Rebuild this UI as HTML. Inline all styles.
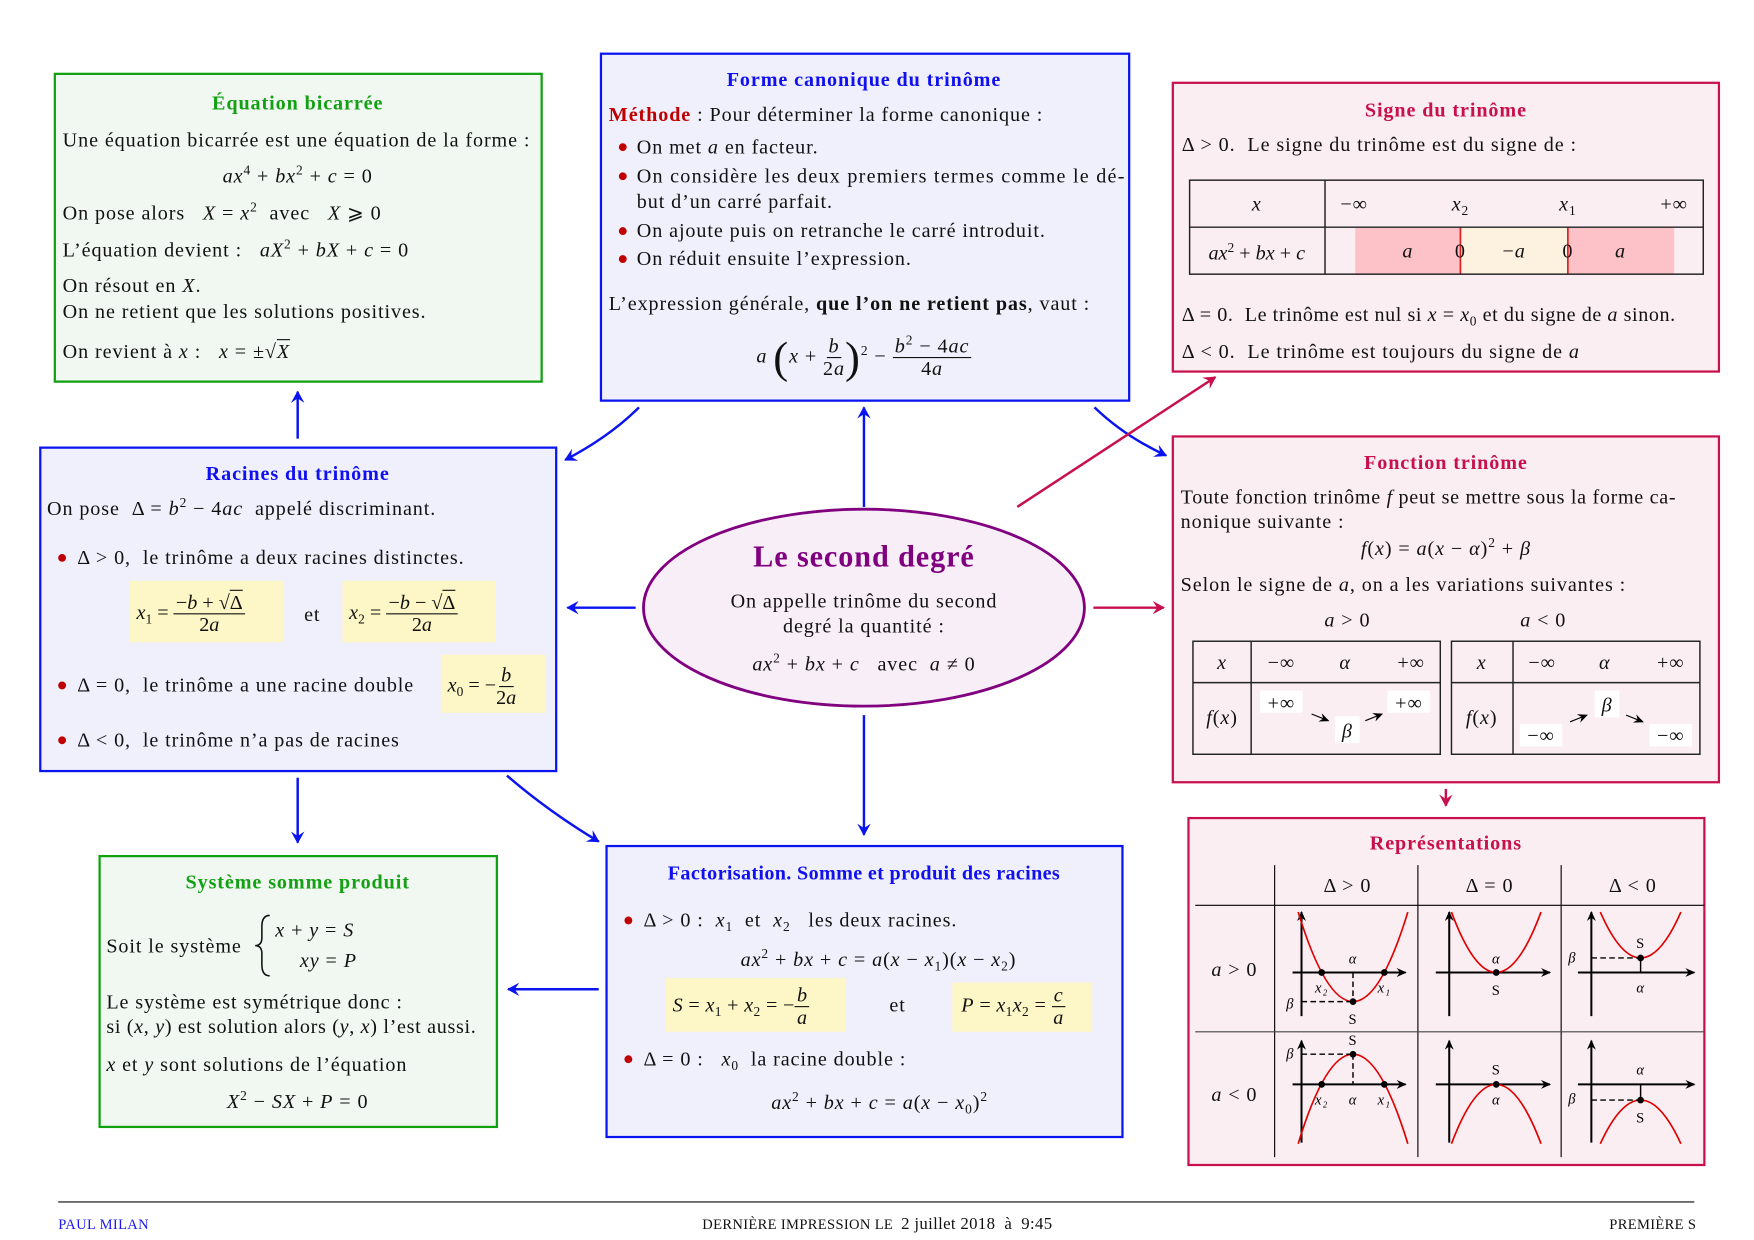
<!DOCTYPE html>
<html><head><meta charset="utf-8">
<style>
html,body{margin:0;padding:0;background:#fff;}
body{width:1754px;height:1240px;overflow:hidden;position:relative;}
#w{position:absolute;left:0;top:0;width:1560px;height:1103px;transform:scale(1.1191);transform-origin:0 0;font-family:"Liberation Serif",serif;font-size:18px;letter-spacing:0.8px;color:#111;}
.b{position:absolute;box-sizing:border-box;border:2.5px solid;}
.g{border-color:#10a010;background:#f1f8f1;}
.bl{border-color:#0a14f0;background:#f0f0fc;}
.r{border-color:#c8104c;background:#fbeef2;}
.t{position:absolute;white-space:nowrap;line-height:20px;}
.c{transform:translateX(-50%);}
.h{font-weight:bold;}
.hg{color:#14a014}.hb{color:#1010f0}.hr{color:#c8104c}
i{font-style:italic}
.dot{position:absolute;width:7px;height:7px;border-radius:50%;background:#c00000;}
.y{position:absolute;background:#fdf6c6;}
.fr{display:inline-flex;flex-direction:column;align-items:center;vertical-align:middle;line-height:19px;}
.fr>span:first-child{border-bottom:1px solid #111;padding:0 2px;}
sup{font-size:12px;vertical-align:7px;line-height:0}
sub{font-size:12px;vertical-align:-4px;line-height:0}
</style></head><body><div id="w">

<svg width="1560" height="1103" style="position:absolute;left:0;top:0">
<defs>
<marker id="ab" markerWidth="14" markerHeight="14" refX="10" refY="6" orient="auto" markerUnits="userSpaceOnUse"><path d="M0,0 L11,6 L0,12 L4,6 Z" fill="#0a14f0"/></marker>
<marker id="ar" markerWidth="14" markerHeight="14" refX="10" refY="6" orient="auto" markerUnits="userSpaceOnUse"><path d="M0,0 L11,6 L0,12 L4,6 Z" fill="#c8104c"/></marker>
<marker id="ak" markerWidth="10" markerHeight="10" refX="8" refY="4" orient="auto" markerUnits="userSpaceOnUse"><path d="M0,0 L9,4 L0,8 L3,4 Z" fill="#000"/></marker>
</defs>
<g stroke="#0a14f0" stroke-width="2.2" fill="none" marker-end="url(#ab)">
<path d="M266,392 L266,350"/>
<path d="M571,364 Q545,390 505,411"/>
<path d="M772,453 L772,364"/>
<path d="M978,364 Q1005,390 1042,407"/>
<path d="M568,543 L507,543"/>
<path d="M266,695 L266,753"/>
<path d="M772,639 L772,746"/>
<path d="M453,693 Q490,725 535,752"/>
<path d="M535,884 L454,884"/>
</g>
<g stroke="#c8104c" stroke-width="2.2" fill="none" marker-end="url(#ar)">
<path d="M909,453 L1086,337"/>
<path d="M977,543 L1040,543"/>
<path d="M1292,705 L1292,720"/>
</g>
<ellipse cx="772" cy="543" rx="197" ry="88" fill="#f8eef8" stroke="#800080" stroke-width="2.5"/>
<line x1="52" y1="1074" x2="1514" y2="1074" stroke="#555" stroke-width="1.5"/>
</svg>

<!-- Equation bicarree -->
<div class="b g" style="left:48px;top:65px;width:437px;height:277px"></div>
<div class="t c h hg" style="left:266px;top:82px">Équation bicarrée</div>
<div class="t" style="left:56px;top:115px">Une équation bicarrée est une équation de la forme :</div>
<div class="t c" style="left:266px;top:147px"><i>ax</i><sup>4</sup> + <i>bx</i><sup>2</sup> + <i>c</i> = 0</div>
<div class="t" style="left:56px;top:180px">On pose alors &nbsp;&nbsp;<i>X</i> = <i>x</i><sup>2</sup> &nbsp;avec &nbsp;&nbsp;<i>X</i> ⩾ 0</div>
<div class="t" style="left:56px;top:213px">L’équation devient : &nbsp;&nbsp;<i>aX</i><sup>2</sup> + <i>bX</i> + <i>c</i> = 0</div>
<div class="t" style="left:56px;top:245px">On résout en <i>X</i>.</div>
<div class="t" style="left:56px;top:268px">On ne retient que les solutions positives.</div>
<div class="t" style="left:56px;top:304px">On revient à <i>x</i> : &nbsp;&nbsp;<i>x</i> = ±√<span style="text-decoration:overline"><i>X</i></span></div>

<!-- Forme canonique -->
<div class="b bl" style="left:536px;top:47px;width:474px;height:312px"></div>
<div class="t c h hb" style="left:772px;top:61px">Forme canonique du trinôme</div>
<div class="t" style="left:544px;top:92px"><span class="h" style="color:#c00000">Méthode</span> : Pour déterminer la forme canonique :</div>
<div class="dot" style="left:553px;top:128px"></div><div class="t" style="left:569px;top:121px">On met <i>a</i> en facteur.</div>
<div class="dot" style="left:553px;top:154px"></div><div class="t" style="left:569px;top:147px;letter-spacing:1.1px">On considère les deux premiers termes comme le dé-</div>
<div class="t" style="left:569px;top:170px">but d’un carré parfait.</div>
<div class="dot" style="left:553px;top:203px"></div><div class="t" style="left:569px;top:196px">On ajoute puis on retranche le carré introduit.</div>
<div class="dot" style="left:553px;top:228px"></div><div class="t" style="left:569px;top:221px">On réduit ensuite l’expression.</div>
<div class="t" style="left:544px;top:261px">L’expression générale, <b>que l’on ne retient pas</b>, vaut :</div>
<div class="t c" style="left:772px;top:298px;line-height:40px"><i>a</i> <span style="font-size:40px;vertical-align:middle;font-weight:100">(</span><i>x</i> + <span class="fr"><span><i>b</i></span><span>2<i>a</i></span></span><span style="font-size:40px;vertical-align:middle;font-weight:100">)</span><sup>2</sup> − <span class="fr"><span><i>b</i><sup>2</sup> − 4<i>ac</i></span><span>4<i>a</i></span></span></div>

<!-- Signe du trinome -->
<div class="b r" style="left:1047px;top:73px;width:490px;height:260px"></div>
<div class="t c h hr" style="left:1292px;top:88px">Signe du trinôme</div>
<div class="t" style="left:1056px;top:119px">Δ &gt; 0. &nbsp;Le signe du trinôme est du signe de :</div>
<svg style="position:absolute;left:0;top:0" width="1560" height="400">
<rect x="1211" y="203" width="94" height="42" fill="#fcc2c8"/>
<rect x="1305" y="203" width="96" height="42" fill="#fdf2e0"/>
<rect x="1401" y="203" width="95" height="42" fill="#fcc2c8"/>
<line x1="1305" y1="203" x2="1305" y2="245" stroke="#e02020" stroke-width="1.5"/>
<line x1="1401" y1="203" x2="1401" y2="245" stroke="#e02020" stroke-width="1.5"/>
<rect x="1063" y="161" width="459" height="84" fill="none" stroke="#222" stroke-width="1.3"/>
<line x1="1063" y1="203" x2="1522" y2="203" stroke="#222" stroke-width="1.3"/>
<line x1="1184" y1="161" x2="1184" y2="245" stroke="#222" stroke-width="1.3"/>
</svg>
<div class="t c" style="left:1123px;top:172px"><i>x</i></div>
<div class="t c" style="left:1210px;top:172px">−∞</div>
<div class="t c" style="left:1305px;top:172px"><i>x</i><sub>2</sub></div>
<div class="t c" style="left:1401px;top:172px"><i>x</i><sub>1</sub></div>
<div class="t c" style="left:1496px;top:172px">+∞</div>
<div class="t c" style="left:1123px;top:216px;letter-spacing:0"><i>ax</i><sup>2</sup> + <i>bx</i> + <i>c</i></div>
<div class="t c" style="left:1258px;top:214px"><i>a</i></div>
<div class="t c" style="left:1305px;top:214px">0</div>
<div class="t c" style="left:1353px;top:214px">−<i>a</i></div>
<div class="t c" style="left:1401px;top:214px">0</div>
<div class="t c" style="left:1448px;top:214px"><i>a</i></div>
<div class="t" style="left:1056px;top:271px;letter-spacing:0.5px">Δ = 0. &nbsp;Le trinôme est nul si <i>x</i> = <i>x</i><sub>0</sub> et du signe de <i>a</i> sinon.</div>
<div class="t" style="left:1056px;top:304px">Δ &lt; 0. &nbsp;Le trinôme est toujours du signe de <i>a</i></div>

<!-- Racines -->
<div class="b bl" style="left:35px;top:399px;width:463px;height:291px"></div>
<div class="t c h hb" style="left:266px;top:413px">Racines du trinôme</div>
<div class="t" style="left:42px;top:444px">On pose &nbsp;Δ = <i>b</i><sup>2</sup> − 4<i>ac</i> &nbsp;appelé discriminant.</div>
<div class="dot" style="left:52px;top:495px"></div><div class="t" style="left:69px;top:488px">Δ &gt; 0, &nbsp;le trinôme a deux racines distinctes.</div>
<div class="y" style="left:116px;top:519px;width:137px;height:55px"></div>
<div class="y" style="left:306px;top:519px;width:137px;height:55px"></div>
<div class="t" style="left:122px;top:527px;line-height:40px;letter-spacing:0"><i>x</i><sub>1</sub> = <span class="fr"><span>−<i>b</i> + √<span style="text-decoration:overline">Δ</span></span><span>2<i>a</i></span></span></div>
<div class="t c" style="left:279px;top:539px">et</div>
<div class="t" style="left:312px;top:527px;line-height:40px;letter-spacing:0"><i>x</i><sub>2</sub> = <span class="fr"><span>−<i>b</i> − √<span style="text-decoration:overline">Δ</span></span><span>2<i>a</i></span></span></div>
<div class="dot" style="left:52px;top:609px"></div><div class="t" style="left:69px;top:602px">Δ = 0, &nbsp;le trinôme a une racine double</div>
<div class="y" style="left:394px;top:585px;width:94px;height:52px"></div>
<div class="t" style="left:400px;top:592px;line-height:40px;letter-spacing:0"><i>x</i><sub>0</sub> = −<span class="fr"><span><i>b</i></span><span>2<i>a</i></span></span></div>
<div class="dot" style="left:52px;top:658px"></div><div class="t" style="left:69px;top:651px">Δ &lt; 0, &nbsp;le trinôme n’a pas de racines</div>

<!-- Ellipse text -->
<div class="t c h" style="left:772px;top:482px;font-size:27px;line-height:30px;color:#800080">Le second degré</div>
<div class="t c" style="left:772px;top:527px">On appelle trinôme du second</div>
<div class="t c" style="left:772px;top:549px">degré la quantité :</div>
<div class="t c" style="left:772px;top:583px"><i>ax</i><sup>2</sup> + <i>bx</i> + <i>c</i> &nbsp;&nbsp;avec &nbsp;<i>a</i> ≠ 0</div>

<!-- Fonction trinome -->
<div class="b r" style="left:1047px;top:389px;width:490px;height:311px"></div>
<div class="t c h hr" style="left:1292px;top:403px">Fonction trinôme</div>
<div class="t" style="left:1055px;top:434px;letter-spacing:0.6px">Toute fonction trinôme <i>f</i> peut se mettre sous la forme ca-</div>
<div class="t" style="left:1055px;top:456px">nonique suivante :</div>
<div class="t c" style="left:1292px;top:480px"><i>f</i>(<i>x</i>) = <i>a</i>(<i>x</i> − <i>α</i>)<sup>2</sup> + <i>β</i></div>
<div class="t" style="left:1055px;top:512px">Selon le signe de <i>a</i>, on a les variations suivantes :</div>
<div class="t c" style="left:1204px;top:544px"><i>a</i> &gt; 0</div>
<div class="t c" style="left:1379px;top:544px"><i>a</i> &lt; 0</div>
<svg style="position:absolute;left:0;top:0" width="1560" height="700">
<g fill="none" stroke="#222" stroke-width="1.3">
<rect x="1066" y="573" width="221" height="101"/><line x1="1066" y1="610" x2="1287" y2="610"/><line x1="1118" y1="573" x2="1118" y2="674"/>
<rect x="1297" y="573" width="222" height="101"/><line x1="1297" y1="610" x2="1519" y2="610"/><line x1="1352" y1="573" x2="1352" y2="674"/>
</g>
<g fill="#fff"><rect x="1126" y="617" width="38" height="20"/><rect x="1240" y="617" width="38" height="20"/><rect x="1193" y="640" width="22" height="24"/>
<rect x="1358" y="647" width="38" height="20"/><rect x="1474" y="647" width="38" height="20"/><rect x="1425" y="617" width="22" height="24"/></g>
<g stroke="#000" stroke-width="1" marker-end="url(#ak)">
<line x1="1172" y1="638" x2="1187" y2="644"/><line x1="1220" y1="644" x2="1235" y2="638"/>
<line x1="1403" y1="645" x2="1418" y2="639"/><line x1="1453" y1="639" x2="1468" y2="645"/>
</g>
</svg>
<div class="t c" style="left:1092px;top:582px"><i>x</i></div>
<div class="t c" style="left:1145px;top:582px">−∞</div>
<div class="t c" style="left:1202px;top:582px"><i>α</i></div>
<div class="t c" style="left:1261px;top:582px">+∞</div>
<div class="t c" style="left:1092px;top:631px"><i>f</i>(<i>x</i>)</div>
<div class="t c" style="left:1145px;top:618px">+∞</div>
<div class="t c" style="left:1204px;top:643px"><i>β</i></div>
<div class="t c" style="left:1259px;top:618px">+∞</div>
<div class="t c" style="left:1324px;top:582px"><i>x</i></div>
<div class="t c" style="left:1378px;top:582px">−∞</div>
<div class="t c" style="left:1434px;top:582px"><i>α</i></div>
<div class="t c" style="left:1493px;top:582px">+∞</div>
<div class="t c" style="left:1324px;top:631px"><i>f</i>(<i>x</i>)</div>
<div class="t c" style="left:1377px;top:647px">−∞</div>
<div class="t c" style="left:1436px;top:620px"><i>β</i></div>
<div class="t c" style="left:1493px;top:647px">−∞</div>

<!-- Systeme -->
<div class="b g" style="left:88px;top:764px;width:357px;height:244px"></div>
<svg style="position:absolute;left:0;top:0" width="300" height="900">
<path d="M241,818 Q234,818 234,828 L234,838 Q234,845 228,845 Q234,845 234,852 L234,862 Q234,872 241,872" fill="none" stroke="#111" stroke-width="1.4"/>
</svg>
<div class="t c h hg" style="left:266px;top:778px">Système somme produit</div>
<div class="t" style="left:95px;top:835px">Soit le système</div>
<div class="t" style="left:246px;top:821px"><i>x</i> + <i>y</i> = <i>S</i></div>
<div class="t" style="left:268px;top:848px"><i>xy</i> = <i>P</i></div>
<div class="t" style="left:95px;top:885px">Le système est symétrique donc :</div>
<div class="t" style="left:95px;top:907px;letter-spacing:0.6px">si (<i>x</i>, <i>y</i>) est solution alors (<i>y</i>, <i>x</i>) l’est aussi.</div>
<div class="t" style="left:95px;top:941px"><i>x</i> et <i>y</i> sont solutions de l’équation</div>
<div class="t c" style="left:266px;top:974px"><i>X</i><sup>2</sup> − <i>SX</i> + <i>P</i> = 0</div>

<!-- Factorisation -->
<div class="b bl" style="left:541px;top:755px;width:463px;height:262px"></div>
<div class="t c h hb" style="left:772px;top:770px;letter-spacing:0.3px">Factorisation. Somme et produit des racines</div>
<div class="dot" style="left:558px;top:819px"></div><div class="t" style="left:575px;top:812px">Δ &gt; 0 : &nbsp;<i>x</i><sub>1</sub> &nbsp;et &nbsp;<i>x</i><sub>2</sub> &nbsp;&nbsp;les deux racines.</div>
<div class="t c" style="left:785px;top:847px"><i>ax</i><sup>2</sup> + <i>bx</i> + <i>c</i> = <i>a</i>(<i>x</i> − <i>x</i><sub>1</sub>)(<i>x</i> − <i>x</i><sub>2</sub>)</div>
<div class="y" style="left:595px;top:874px;width:161px;height:48px"></div>
<div class="y" style="left:851px;top:878px;width:125px;height:44px"></div>
<div class="t" style="left:601px;top:878px;line-height:40px;letter-spacing:0.3px"><i>S</i> = <i>x</i><sub>1</sub> + <i>x</i><sub>2</sub> = −<span class="fr"><span><i>b</i></span><span><i>a</i></span></span></div>
<div class="t c" style="left:802px;top:888px">et</div>
<div class="t" style="left:859px;top:878px;line-height:40px;letter-spacing:0.3px"><i>P</i> = <i>x</i><sub>1</sub><i>x</i><sub>2</sub> = <span class="fr"><span><i>c</i></span><span><i>a</i></span></span></div>
<div class="dot" style="left:558px;top:943px"></div><div class="t" style="left:575px;top:936px">Δ = 0 : &nbsp;&nbsp;<i>x</i><sub>0</sub> &nbsp;la racine double :</div>
<div class="t c" style="left:786px;top:975px"><i>ax</i><sup>2</sup> + <i>bx</i> + <i>c</i> = <i>a</i>(<i>x</i> − <i>x</i><sub>0</sub>)<sup>2</sup></div>

<!-- Representations -->
<div class="b r" style="left:1061px;top:730px;width:463px;height:312px"></div>
<div class="t c h hr" style="left:1292px;top:743px">Représentations</div>
<svg style="position:absolute;left:0;top:0" width="1560" height="1103" font-family="Liberation Serif, serif" font-size="13">
<g stroke="#000" stroke-width="1">
<line x1="1139" y1="773" x2="1139" y2="1034"/><line x1="1267" y1="773" x2="1267" y2="1034"/><line x1="1395" y1="773" x2="1395" y2="1034"/>
<line x1="1068" y1="809" x2="1523" y2="809"/><line x1="1068" y1="922" x2="1523" y2="922" stroke="#444"/>
</g>
<g transform="translate(1139,809)">
<g stroke="#000" stroke-width="1.8" marker-end="url(#ak)"><line x1="16" y1="60" x2="117" y2="60"/><line x1="24" y1="99" x2="24" y2="6"/></g>
<path d="M21,6 Q70,166 119,6" fill="none" stroke="#e00000" stroke-width="1.5"/>
<g stroke="#000" stroke-dasharray="5,3" stroke-width="1.3"><line x1="24" y1="86" x2="70" y2="86"/><line x1="70" y1="60" x2="70" y2="86"/></g>
<circle cx="42" cy="60" r="3"/><circle cx="98" cy="60" r="3"/><circle cx="70" cy="86" r="3"/>
<text x="70" y="52" text-anchor="middle" font-style="italic">α</text><text x="42" y="78" text-anchor="middle" font-style="italic">x₂</text><text x="98" y="78" text-anchor="middle" font-style="italic">x₁</text><text x="14" y="92" text-anchor="middle" font-style="italic">β</text><text x="70" y="106" text-anchor="middle">S</text>
</g>
<g transform="translate(1267,809)">
<g stroke="#000" stroke-width="1.8" marker-end="url(#ak)"><line x1="16" y1="60" x2="118" y2="60"/><line x1="28" y1="99" x2="28" y2="6"/></g>
<path d="M30,6 Q70,114 110,6" fill="none" stroke="#e00000" stroke-width="1.5"/>
<circle cx="70" cy="60" r="3"/>
<text x="70" y="52" text-anchor="middle" font-style="italic">α</text><text x="70" y="80" text-anchor="middle">S</text>
</g>
<g transform="translate(1395,809)">
<g stroke="#000" stroke-width="1.8" marker-end="url(#ak)"><line x1="15" y1="60" x2="119" y2="60"/><line x1="27" y1="99" x2="27" y2="6"/></g>
<path d="M35,6 Q71,88 107,6" fill="none" stroke="#e00000" stroke-width="1.5"/>
<line x1="27" y1="47" x2="71" y2="47" stroke="#000" stroke-dasharray="5,3" stroke-width="1.3"/><line x1="71" y1="47" x2="71" y2="60" stroke="#000" stroke-width="1.3"/>
<circle cx="71" cy="47" r="3"/>
<text x="71" y="38" text-anchor="middle">S</text><text x="10" y="51" text-anchor="middle" font-style="italic">β</text><text x="71" y="78" text-anchor="middle" font-style="italic">α</text>
</g>
<g transform="translate(1139,922)">
<g stroke="#000" stroke-width="1.8" marker-end="url(#ak)"><line x1="16" y1="47" x2="117" y2="47"/><line x1="24" y1="99" x2="24" y2="8"/></g>
<path d="M21,100 Q70,-60 119,100" fill="none" stroke="#e00000" stroke-width="1.5"/>
<g stroke="#000" stroke-dasharray="5,3" stroke-width="1.3"><line x1="24" y1="20" x2="70" y2="20"/><line x1="70" y1="20" x2="70" y2="47"/></g>
<circle cx="42" cy="47" r="3"/><circle cx="98" cy="47" r="3"/><circle cx="70" cy="20" r="3"/>
<text x="70" y="12" text-anchor="middle">S</text><text x="14" y="24" text-anchor="middle" font-style="italic">β</text><text x="42" y="65" text-anchor="middle" font-style="italic">x₂</text><text x="70" y="65" text-anchor="middle" font-style="italic">α</text><text x="98" y="65" text-anchor="middle" font-style="italic">x₁</text>
</g>
<g transform="translate(1267,922)">
<g stroke="#000" stroke-width="1.8" marker-end="url(#ak)"><line x1="16" y1="47" x2="118" y2="47"/><line x1="28" y1="99" x2="28" y2="8"/></g>
<path d="M30,100 Q70,-6 110,100" fill="none" stroke="#e00000" stroke-width="1.5"/>
<circle cx="70" cy="47" r="3"/>
<text x="70" y="38" text-anchor="middle">S</text><text x="70" y="65" text-anchor="middle" font-style="italic">α</text>
</g>
<g transform="translate(1395,922)">
<g stroke="#000" stroke-width="1.8" marker-end="url(#ak)"><line x1="15" y1="47" x2="119" y2="47"/><line x1="27" y1="99" x2="27" y2="8"/></g>
<path d="M35,100 Q71,22 107,100" fill="none" stroke="#e00000" stroke-width="1.5"/>
<line x1="27" y1="61" x2="71" y2="61" stroke="#000" stroke-dasharray="5,3" stroke-width="1.3"/><line x1="71" y1="47" x2="71" y2="61" stroke="#000" stroke-width="1.3"/>
<circle cx="71" cy="61" r="3"/>
<text x="71" y="38" text-anchor="middle" font-style="italic">α</text><text x="10" y="64" text-anchor="middle" font-style="italic">β</text><text x="71" y="81" text-anchor="middle">S</text>
</g>
</svg>
<div class="t c" style="left:1204px;top:781px">Δ &gt; 0</div>
<div class="t c" style="left:1331px;top:781px">Δ = 0</div>
<div class="t c" style="left:1459px;top:781px">Δ &lt; 0</div>
<div class="t c" style="left:1103px;top:856px"><i>a</i> &gt; 0</div>
<div class="t c" style="left:1103px;top:968px"><i>a</i> &lt; 0</div>

<!-- footer -->
<div class="t" style="left:52px;top:1084px;font-size:13px;letter-spacing:0.3px;color:#1a1af0">PAUL MILAN</div>
<div class="t c" style="left:784px;top:1084px;font-size:13px;letter-spacing:0.3px">DERNIÈRE IMPRESSION LE &nbsp;<span style="font-size:15px">2 juillet 2018 &nbsp;à &nbsp;9:45</span></div>
<div class="t" style="left:1438px;top:1084px;font-size:13px;letter-spacing:0.3px">PREMIÈRE S</div>
</div></body></html>
